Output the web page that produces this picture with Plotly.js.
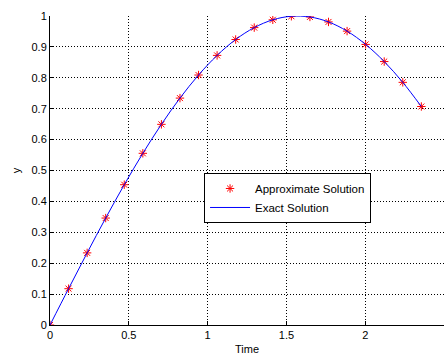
<!DOCTYPE html>
<html><head><meta charset="utf-8">
<script src="https://cdn.plot.ly/plotly-3.0.1.min.js"></script>
<style>body{margin:0;padding:0;background:#fff}#c{width:447px;height:358px}</style>
</head><body><div id="c"></div>
<script>
var time = [0, 0.1178, 0.2356, 0.3534, 0.4712, 0.5890, 0.7069, 0.8247, 0.9425, 1.0603, 1.1781, 1.2959, 1.4137, 1.5315, 1.6493, 1.7671, 1.8850, 2.0028, 2.1206, 2.2384, 2.3562];
var approx = [0, 0.1175, 0.2334, 0.3461, 0.4540, 0.5556, 0.6494, 0.7343, 0.8090, 0.8725, 0.9239, 0.9624, 0.9877, 0.9992, 0.9969, 0.9808, 0.9511, 0.9080, 0.8526, 0.7853, 0.7071];
var exact = [0, 0.1175, 0.2334, 0.3461, 0.4540, 0.5556, 0.6494, 0.7343, 0.8090, 0.8725, 0.9239, 0.9624, 0.9877, 0.9992, 0.9969, 0.9808, 0.9511, 0.9080, 0.8526, 0.7853, 0.7071];
var xTicks = [0, 0.5, 1, 1.5, 2, 2.5];
var xTickText = ['0', '0.5', '1', '1.5', '2', '2.5'];
var yTicks = [0, 0.1, 0.2, 0.3, 0.4, 0.5, 0.6, 0.7, 0.8, 0.9, 1];
var yTickText = ['0', '0.1', '0.2', '0.3', '0.4', '0.5', '0.6', '0.7', '0.8', '0.9', '1'];

var fontFam = 'Liberation Sans, Arial, sans-serif';
var traces = [
  {x: time, y: approx, mode: 'markers', name: 'Approximate Solution',
   marker: {symbol: 'asterisk-open', size: 7, color: '#ff0000', line: {color: '#ff0000', width: 1}}},
  {x: time, y: exact, mode: 'lines', name: 'Exact Solution', line: {color: '#0000ff', width: 1, shape: 'spline'}}
];

var axisCommon = {
  showgrid: true, gridcolor: '#000', griddash: '1px,2px', gridwidth: 1,
  showline: true, linecolor: '#000', linewidth: 1, zeroline: false,
  ticks: 'inside', ticklen: 4, tickcolor: '#000', tickfont: {family: fontFam, size: 11, color: '#000'}
};
var layout = {
  width: 447, height: 358,
  margin: {l: 50, r: 3, t: 16, b: 33},
  paper_bgcolor: '#fff', plot_bgcolor: '#fff',
  showlegend: true,
  xaxis: Object.assign({}, axisCommon, {range: [0, 2.5], tickmode: 'array', tickvals: xTicks, ticktext: xTickText,
    title: {text: 'Time', font: {family: fontFam, size: 11, color: '#000'}, standoff: 5}}),
  yaxis: Object.assign({}, axisCommon, {range: [0, 1], tickmode: 'array', tickvals: yTicks, ticktext: yTickText,
    title: {text: 'y', font: {family: fontFam, size: 11, color: '#000'}, standoff: 8}}),
  legend: {x: 0.391, y: 0.492, xanchor: 'left', yanchor: 'top', bgcolor: '#fff', bordercolor: '#000', borderwidth: 1,
    font: {family: fontFam, size: 11.5, color: '#000'}, tracegroupgap: 0, itemwidth: 40}
};
Plotly.newPlot('c', traces, layout, {displayModeBar: false, staticPlot: true});
</script></body></html>
